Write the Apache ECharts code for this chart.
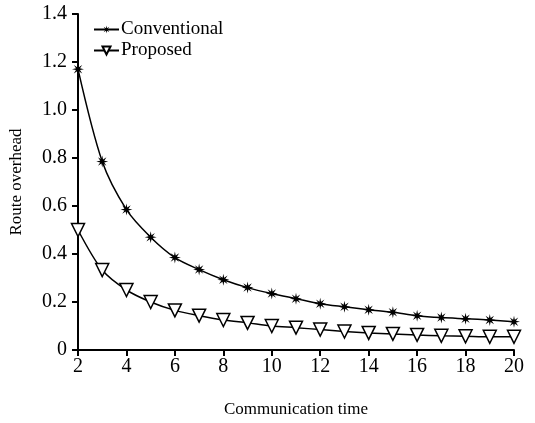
<!DOCTYPE html>
<html><head><meta charset="utf-8">
<script src="https://cdn.jsdelivr.net/npm/echarts@6/dist/echarts.min.js"></script>
<style>html,body{margin:0;padding:0;background:#fff}#c{width:535px;height:423px}</style>
</head><body><div id="c"></div>
<script>
const times = [2,3,4,5,6,7,8,9,10,11,12,13,14,15,16,17,18,19,20];
const conventional = [1.17,0.785,0.585,0.47,0.385,0.335,0.293,0.26,0.235,0.214,0.193,0.18,0.168,0.157,0.143,0.135,0.13,0.125,0.118];
const proposed = [0.5,0.333,0.25,0.2,0.165,0.143,0.125,0.113,0.1,0.093,0.085,0.077,0.071,0.067,0.063,0.059,0.057,0.055,0.055];
const xTicks = [2,4,6,8,10,12,14,16,18,20];
const yTicks = [0,0.2,0.4,0.6,0.8,1.0,1.2,1.4];

// asterisk-like star path
let pts = [];
for (let i = 0; i < 16; i++) {
  const a = Math.PI * i / 8;
  const r = i % 2 === 0 ? 10 : 3.6;
  pts.push((10 + r * Math.sin(a)).toFixed(2) + ',' + (10 - r * Math.cos(a)).toFixed(2));
}
const star = 'path://M' + pts.join('L') + 'Z';

const font = '"Liberation Serif", "Times New Roman", serif';
const chart = echarts.init(document.getElementById('c'));
chart.setOption({
  animation: false,
  textStyle: {fontFamily: font},
  grid: {left: 77, right: 21, top: 14, bottom: 72},
  legend: {
    left: 88, top: 15, orient: 'vertical', itemGap: 2, itemWidth: 25, itemHeight: 10,
    textStyle: {fontFamily: font, fontSize: 19, color: '#000', padding: [0, 0, 0, -3]},
    data: ['Conventional', 'Proposed']
  },
  xAxis: {
    type: 'value', min: 2, max: 20, interval: 2,
    name: 'Communication time', nameLocation: 'middle', nameGap: 51,
    nameTextStyle: {fontFamily: font, fontSize: 17, color: '#000'},
    axisLine: {lineStyle: {color: '#000', width: 2}},
    axisTick: {show: true, length: 6, lineStyle: {color: '#000', width: 2}},
    axisLabel: {fontFamily: font, fontSize: 20, color: '#000', margin: 7,
      formatter: v => xTicks.includes(v) ? String(v) : ''},
    splitLine: {show: false}
  },
  yAxis: {
    type: 'value', min: 0, max: 1.4, interval: 0.2,
    name: 'Route overhead', nameLocation: 'middle', nameGap: 53,
    nameTextStyle: {fontFamily: font, fontSize: 17, color: '#000'},
    axisLine: {show: true, lineStyle: {color: '#000', width: 2}},
    axisTick: {show: true, length: 6, lineStyle: {color: '#000', width: 2}},
    axisLabel: {fontFamily: font, fontSize: 20, color: '#000', margin: 11,
      formatter: v => { const t = yTicks.find(y => Math.abs(y - v) < 1e-6); return t === undefined ? '' : (t === 0 ? '0' : t.toFixed(1)); }},
    splitLine: {show: false}
  },
  series: [
    {
      name: 'Conventional', type: 'line', smooth: 0.3,
      data: times.map((t, i) => [t, conventional[i]]),
      symbol: star, symbolSize: 12,
      lineStyle: {color: '#000', width: 1.5},
      itemStyle: {color: '#000', borderWidth: 0}
    },
    {
      name: 'Proposed', type: 'line', smooth: 0.3,
      data: times.map((t, i) => [t, proposed[i]]),
      symbol: 'triangle', symbolRotate: 180, symbolSize: 13,
      lineStyle: {color: '#000', width: 1.5},
      itemStyle: {color: '#fff', borderColor: '#000', borderWidth: 1.5}
    }
  ]
});
</script></body></html>
